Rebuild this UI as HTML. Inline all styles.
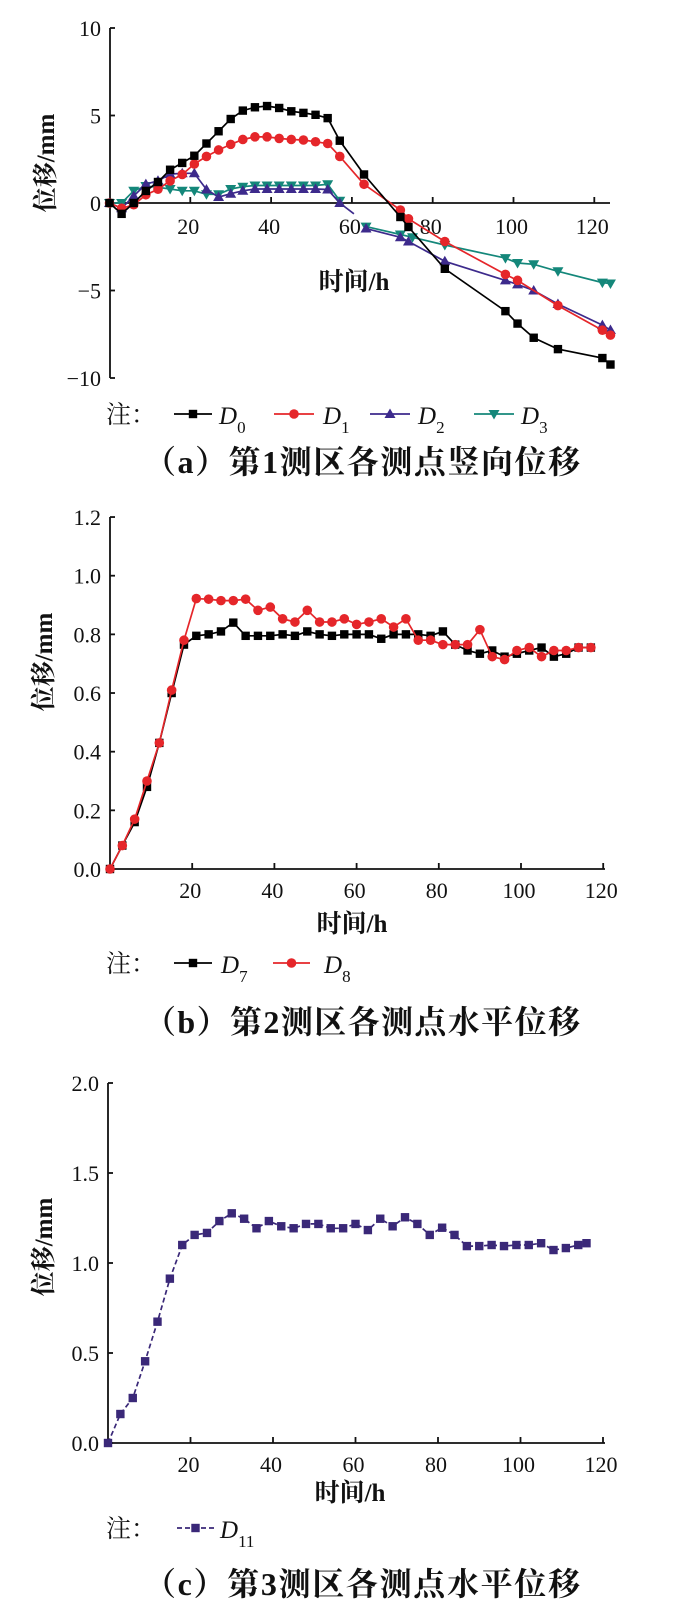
<!DOCTYPE html>
<html><head><meta charset="utf-8">
<style>
html,body{margin:0;padding:0;background:#fff;}
svg{display:block;}
text{font-family:"Liberation Serif","Noto Serif CJK SC",serif;fill:#111;}
.tick{font-size:22px;}
.ttl{font-size:25px;font-weight:bold;}
.cap{font-size:32px;font-weight:bold;}
.leg{font-size:25px;}
</style></head>
<body>
<svg id="fig" width="700" height="1610" viewBox="0 0 700 1610" xmlns="http://www.w3.org/2000/svg">
<g id="chartA"></g>
<g id="chartB"></g>
<g id="chartC"></g>
</svg>
<script>
// ---------- Chart A data ----------
const aTimes1 = [0,3,6,9,12,15,18,21,24,27,30,33,36,39,42,45,48,51,54,57];
const aD0v1 = [0,-0.62,0,0.69,1.2,1.9,2.29,2.7,3.4,4.1,4.8,5.28,5.47,5.54,5.43,5.24,5.15,5.04,4.85,3.56];
const aD0t2 = [63,72,74,83,98,101,105,111,122,124];
const aD0v2 = [1.63,-0.8,-1.37,-3.76,-6.18,-6.89,-7.7,-8.35,-8.86,-9.23];
const aD1v1 = [0,-0.3,-0.1,0.47,0.79,1.26,1.63,2.23,2.66,3.03,3.35,3.63,3.78,3.78,3.69,3.63,3.6,3.5,3.4,2.66];
const aD1t2 = [63,72,74,83,98,101,111,122,124];
const aD1v2 = [1.07,-0.4,-0.9,-2.2,-4.08,-4.42,-5.86,-7.27,-7.55];
const aD2v1 = [0,-0.3,0.4,1.08,1.27,1.65,1.7,1.7,0.77,0.34,0.53,0.7,0.8,0.8,0.8,0.8,0.8,0.8,0.77,0.0];
const aD2t2 = [63.5,72,74,83,98,101,105,111,122,124];
const aD2v2 = [-1.46,-1.96,-2.2,-3.33,-4.42,-4.65,-5.0,-5.77,-6.98,-7.26];
const aD3v1 = [0,0,0.7,0.97,0.9,0.8,0.7,0.7,0.5,0.5,0.8,0.93,1.0,1.0,1.0,1.0,1.0,1.0,1.07,0.13];
const aD3t2 = [63.5,72,75,83,98,101,105,111,122,124];
const aD3v2 = [-1.35,-1.8,-1.96,-2.4,-3.15,-3.43,-3.5,-3.9,-4.55,-4.6];
const aYTicks = [10,5,0,-5,-10];
const aYLabels = ["10","5","0","\u22125","\u221210"];
const aXTicks = [20,40,60,80,100,120];
// ---------- Chart B data ----------
const bTimes = [0,3,6,9,12,15,18,21,24,27,30,33,36,39,42,45,48,51,54,57,60,63,66,69,72,75,78,81,84,87,90,93,96,99,102,105,108,111,114,117];
const bD7 = [0,0.08,0.16,0.28,0.43,0.60,0.765,0.795,0.80,0.81,0.84,0.795,0.795,0.795,0.80,0.795,0.81,0.80,0.795,0.80,0.80,0.80,0.785,0.80,0.80,0.80,0.795,0.81,0.765,0.745,0.734,0.745,0.724,0.734,0.745,0.755,0.724,0.734,0.755,0.755];
const bD8 = [0,0.08,0.17,0.30,0.43,0.61,0.78,0.922,0.92,0.915,0.915,0.92,0.882,0.893,0.853,0.842,0.882,0.842,0.842,0.853,0.834,0.842,0.853,0.825,0.853,0.78,0.78,0.765,0.765,0.765,0.816,0.724,0.714,0.745,0.755,0.724,0.745,0.745,0.755,0.755];
const bYTicks = [0,0.2,0.4,0.6,0.8,1.0,1.2];
const bXTicks = [20,40,60,80,100,120];
// ---------- Chart C data ----------
const cTimes = [0,3,6,9,12,15,18,21,24,27,30,33,36,39,42,45,48,51,54,57,60,63,66,69,72,75,78,81,84,87,90,93,96,99,102,105,108,111,114,116];
const cD11 = [0,0.161,0.25,0.454,0.674,0.913,1.10,1.156,1.167,1.233,1.276,1.246,1.193,1.233,1.204,1.193,1.217,1.217,1.193,1.193,1.217,1.183,1.246,1.204,1.254,1.217,1.156,1.196,1.156,1.094,1.094,1.10,1.094,1.10,1.10,1.11,1.072,1.083,1.10,1.11];
const cYTicks = [0,0.5,1.0,1.5,2.0];
const cXTicks = [20,40,60,80,100,120];

const NS = "http://www.w3.org/2000/svg";
function mk(parent, tag, attrs, txt){
  const e = document.createElementNS(NS, tag);
  for (const k in attrs) e.setAttribute(k, attrs[k]);
  if (txt !== undefined) e.textContent = txt;
  parent.appendChild(e);
  return e;
}
function marker(g, shape, x, y, color){
  let e;
  if (shape === "sq") e = mk(g, "rect", {x:x-4.2, y:y-4.2, width:8.4, height:8.4, fill:color});
  else if (shape === "ci") e = mk(g, "circle", {cx:x, cy:y, r:4.8, fill:color});
  else if (shape === "tu") e = mk(g, "polygon", {points:`${x},${y-5.5} ${x-5.5},${y+4} ${x+5.5},${y+4}`, fill:color});
  else e = mk(g, "polygon", {points:`${x},${y+5.5} ${x-5.5},${y-4} ${x+5.5},${y-4}`, fill:color});
  
  
}
function series(g, name, ts, vs, sx, sy, color, shape, dash){
  const sg = mk(g, "g", {});
  
  
  const pts = ts.map((t,i)=>sx(t).toFixed(1)+","+sy(vs[i]).toFixed(1)).join(" ");
  const pl = mk(sg, "polyline", {points:pts, fill:"none", stroke:color, "stroke-width":1.7});
  if (dash) pl.setAttribute("stroke-dasharray", dash);
  
  
  ts.forEach((t,i)=>marker(sg, shape, sx(t), sy(vs[i]), color));
}
function axes(g, x0, x1, yTop, yBot, yZero, yTicks, yLabels, sy, xTicks, sx, labelY){
  const ax = mk(g, "g", {stroke:"#111", "stroke-width":1.8, fill:"none"});
  
  
  mk(ax, "line", {x1:x0, y1:yTop, x2:x0, y2:yBot});
  mk(ax, "line", {x1:x0, y1:yZero, x2:x1, y2:yZero});
  yTicks.forEach((v,i)=>{
    mk(ax, "line", {x1:x0, y1:sy(v), x2:x0+5, y2:sy(v)});
    const t = mk(g, "text", {x:x0-9, y:sy(v)+8, "text-anchor":"end", class:"tick"}, yLabels[i]);
    
    
  });
  xTicks.forEach(v=>{
    mk(ax, "line", {x1:sx(v), y1:yZero, x2:sx(v), y2:yZero-6});
    const t = mk(g, "text", {x:sx(v)-2, y:labelY, "text-anchor":"middle", class:"tick"}, String(v));
    
    
  });
}
function ytitle(g, x, y){
  const t = mk(g, "text", {x:x, y:y, "text-anchor":"middle", class:"ttl", transform:`rotate(-90 ${x} ${y})`}, "位移/mm");
  
  
}
function xtitle(g, x, y){
  const t = mk(g, "text", {x:x, y:y, "text-anchor":"middle", class:"ttl"}, "时间/h");
  
  
}
function caption(g, x, y, s){
  const t = mk(g, "text", {x:x, y:y, class:"cap", textLength:436, lengthAdjust:"spacing"}, s);
  
  
}
function legend(g, y, items){
  const lg = mk(g, "g", {});
  
  
  mk(lg, "text", {x:106, y:y+9, class:"leg"}, "注：");
  items.forEach(it=>{
    const eg = mk(lg, "g", {});
    
    
    const ln = mk(eg, "line", {x1:it.x1, y1:y, x2:it.x2, y2:y, stroke:it.color, "stroke-width":1.8});
    if (it.dash) ln.setAttribute("stroke-dasharray", it.dash);
    marker(eg, it.shape, (it.x1+it.x2)/2, y, it.color);
    const t = mk(eg, "text", {x:it.tx, y:y+10, class:"leg", "font-style":"italic"}, "D");
    const s = mk(eg, "tspan", {dy:9, "font-size":"17", "font-style":"normal"}, it.sub);
    t.appendChild(s);
  });
}

// ---------- draw A ----------
(function(){
  const g = document.getElementById("chartA");
  const sx = t => 109.5 + 4.04*t;
  const sy = v => 203 - 17.5*v;
  axes(g, 110, 610, sy(10), sy(-10), sy(0), aYTicks, aYLabels, sy, aXTicks, sx, 234);
  series(g, "series-d3-part1", aTimes1, aD3v1, sx, sy, "#14877a", "td");
  series(g, "series-d2-part1", aTimes1, aD2v1, sx, sy, "#3d2a8c", "tu");
  series(g, "series-d1-part1", aTimes1, aD1v1, sx, sy, "#e5262a", "ci");
  series(g, "series-d0-part1", aTimes1, aD0v1, sx, sy, "#000", "sq");
  series(g, "series-d3-part2", aD3t2, aD3v2, sx, sy, "#14877a", "td");
  series(g, "series-d2-part2", aD2t2, aD2v2, sx, sy, "#3d2a8c", "tu");
  series(g, "series-d1-part2", aD1t2, aD1v2, sx, sy, "#e5262a", "ci");
  series(g, "series-d0-part2", aD0t2, aD0v2, sx, sy, "#000", "sq");
  mk(g, "line", {x1:sx(57), y1:sy(aD0v1[19]), x2:sx(63), y2:sy(aD0v2[0]), stroke:"#000", "stroke-width":1.7});
  mk(g, "line", {x1:sx(57), y1:sy(aD1v1[19]), x2:sx(63), y2:sy(aD1v2[0]), stroke:"#e5262a", "stroke-width":1.7});
  mk(g, "line", {x1:sx(57), y1:sy(0), x2:sx(60.5), y2:sy(-0.62), stroke:"#3d2a8c", "stroke-width":1.7});
  xtitle(g, 354, 290);
  ytitle(g, 54, 163);
  legend(g, 414, [
    {x1:174,x2:212,color:"#000",shape:"sq",tx:219,sub:"0"},
    {x1:274,x2:314,color:"#e5262a",shape:"ci",tx:323,sub:"1"},
    {x1:370,x2:410,color:"#3d2a8c",shape:"tu",tx:418,sub:"2"},
    {x1:474,x2:514,color:"#14877a",shape:"td",tx:521,sub:"3"}]);
  caption(g, 144, 473, "（a）第1测区各测点竖向位移");
})();

// ---------- draw B ----------
(function(){
  const g = document.getElementById("chartB");
  const sx = t => 110 + 4.11*t;
  const sy = v => 869 - 293.3*v;
  axes(g, 110, 605, sy(1.2), 869, 869, bYTicks, bYTicks.map(v=>v.toFixed(1)), sy, bXTicks, sx, 898);
  series(g, "series-d7", bTimes, bD7, sx, sy, "#000", "sq");
  series(g, "series-d8", bTimes, bD8, sx, sy, "#e5262a", "ci");
  xtitle(g, 352, 932);
  ytitle(g, 52, 662);
  legend(g, 963, [
    {x1:174,x2:212,color:"#000",shape:"sq",tx:221,sub:"7"},
    {x1:273,x2:310,color:"#e5262a",shape:"ci",tx:324,sub:"8"}]);
  caption(g, 144, 1033, "（b）第2测区各测点水平位移");
})();

// ---------- draw C ----------
(function(){
  const g = document.getElementById("chartC");
  const sx = t => 108 + 4.125*t;
  const sy = v => 1443 - 180*v;
  axes(g, 108, 605, sy(2.0), 1443, 1443, cYTicks, cYTicks.map(v=>v.toFixed(1)), sy, cXTicks, sx, 1472);
  series(g, "series-d11", cTimes, cD11, sx, sy, "#3a2878", "sq", "5,3");
  xtitle(g, 350, 1501);
  ytitle(g, 52, 1247);
  legend(g, 1528, [
    {x1:177,x2:214,color:"#3a2878",shape:"sq",tx:220,sub:"11",dash:"5,3"}]);
  caption(g, 144, 1595, "（c）第3测区各测点水平位移");
})();
</script>
</body></html>
